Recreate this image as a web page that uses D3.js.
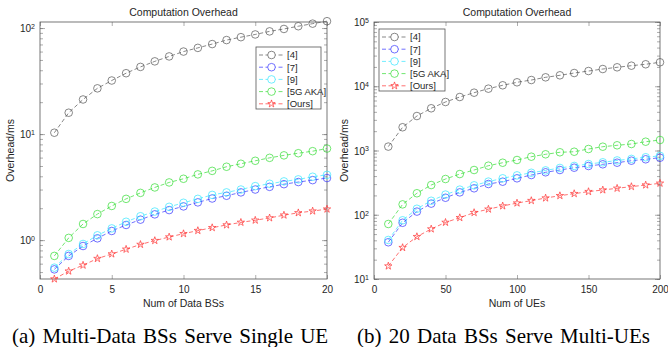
<!DOCTYPE html>
<html>
<head>
<meta charset="utf-8">
<script src="https://cdn.jsdelivr.net/npm/d3@7"></script>
<style>
  body { margin: 0; background: #fff; }
  svg { display: block; }
  .tick text { font-family: "Liberation Sans", Arial, sans-serif; font-size: 10px; fill: #262626; }
  .lbl { font-family: "Liberation Sans", Arial, sans-serif; fill: #262626; }
  .cap { font-family: "Liberation Serif", "Times New Roman", serif; font-size: 21px; word-spacing: 2px; fill: #000; }
</style>
</head>
<body>
<div id="chart"></div>
<script>
// ---- data ----
var names = ['[4]', '[7]', '[9]', '[5G AKA]', '[Ours]'];
var colors = ['#555555', '#3333ff', '#33e5ff', '#33dd33', '#ff3333'];

// (a) multi-data BSs serve a single UE
var bsCount = [1,2,3,4,5,6,7,8,9,10,11,12,13,14,15,16,17,18,19,20];
var a4    = [10.3,15.9,21.2,27,32,37.5,43,48.5,54,60,65,70.6,77,82,87,93,98,104,110,116];
var a7    = [0.53,0.71,0.88,1.04,1.22,1.39,1.56,1.75,1.92,2.08,2.27,2.47,2.62,2.82,3.0,3.18,3.37,3.53,3.68,3.85];
var a9    = [0.55,0.74,0.92,1.11,1.29,1.49,1.68,1.86,2.06,2.25,2.45,2.67,2.82,3.0,3.23,3.4,3.58,3.74,3.96,4.13];
var a5g   = [0.71,1.05,1.42,1.76,2.1,2.45,2.79,3.14,3.5,3.79,4.17,4.5,4.92,5.25,5.6,5.97,6.3,6.6,6.9,7.3];
var aOurs = [0.43,0.51,0.58,0.67,0.74,0.82,0.91,0.99,1.07,1.15,1.23,1.31,1.39,1.47,1.54,1.62,1.72,1.81,1.88,1.96];

// (b) 20 data BSs serve multiple UEs
var ueCount = [10,20,30,40,50,60,70,80,90,100,110,120,130,140,150,160,170,180,190,200];
var b4    = [1150,2300,3440,4540,5690,6800,7940,9170,10350,11520,12500,13770,14800,16070,17260,18540,19720,20900,21980,23600];
var b7    = [37.3,75,112,149,184,223,258,301,327,369,415,458,497,540,574,610,646,694,730,772];
var b9    = [40.5,82,124,165,206,246,287,328,369,410,450,490,535,575,615,655,700,740,785,826];
var b5g   = [71.8,145,216,290,360,430,497,580,645,711,801,873,938,957,1055,1146,1205,1262,1371,1456];
var bOurs = [15.9,30.8,45.6,60,76,90,108,122,137,152,166,182,198,213,229,243,258,274,290,309];

var xTicksA = [0,5,10,15,20];
var xTicksB = [0,50,100,150,200];
var yMajorA = [1,10,100];
var yMajorB = [10,100,1000,10000,100000];

var W = 668, H = 347;
var svg = d3.select('#chart').append('svg').attr('width', W).attr('height', H);

function minorTicks(lo, hi) {
    var out = [];
    for (var e = Math.floor(Math.log10(lo)); e <= Math.ceil(Math.log10(hi)); e++) {
        for (var k = 1; k <= 9; k++) {
            var v = k * Math.pow(10, e);
            if (v >= lo && v <= hi) out.push(v);
        }
    }
    return out;
}

function marker(sel, i, cx, cy, fill) {
    if (i === 4) {
        sel.append('path').attr('d', d3.symbol(d3.symbolStar, 17)())
            .attr('transform', 'translate(' + cx + ',' + cy + ')')
            .attr('fill', 'none').attr('stroke', colors[i]).attr('stroke-width', 0.7);
    } else {
        sel.append('circle').attr('cx', cx).attr('cy', cy).attr('r', 3.8)
            .attr('fill', fill).attr('stroke', colors[i]).attr('stroke-width', 0.7);
    }
}

function drawPanel(p) {
    var innerW = p.x1 - p.x0, innerH = p.y1 - p.y0;
    var g = svg.append('g').attr('transform', 'translate(' + p.x0 + ',' + p.y0 + ')');
    var x = d3.scaleLinear().domain(p.xDom).range([0, innerW]);
    var y = d3.scaleLog().domain(p.yDom).range([innerH, 0]);

    var minors = minorTicks(p.yDom[0], p.yDom[1]);

    // minor ticks both sides
    g.append('g').call(d3.axisLeft(y).tickValues(minors).tickSize(-3).tickFormat(''));
    g.append('g').attr('transform', 'translate(' + innerW + ',0)')
        .call(d3.axisRight(y).tickValues(minors).tickSize(-3).tickFormat(''));
    // major y ticks
    var yl = g.append('g').call(d3.axisLeft(y).tickValues(p.yMajor).tickSize(-5).tickFormat(''));
    g.append('g').attr('transform', 'translate(' + innerW + ',0)')
        .call(d3.axisRight(y).tickValues(p.yMajor).tickSize(-5).tickFormat(''));
    yl.selectAll('.tick').append('text')
        .attr('x', -5).attr('dy', '0.35em').attr('text-anchor', 'end')
        .each(function (d) {
            var t = d3.select(this);
            t.append('tspan').text('10');
            t.append('tspan').attr('dy', '-0.45em').attr('font-size', '7px').text(Math.round(Math.log10(d)));
        });
    // x ticks bottom and top
    g.append('g').attr('transform', 'translate(0,' + innerH + ')')
        .call(d3.axisBottom(x).tickValues(p.xTicks).tickSize(-4).tickPadding(7));
    g.append('g').call(d3.axisTop(x).tickValues(p.xTicks).tickSize(-4).tickFormat(''));
    g.selectAll('.domain').remove();
    g.selectAll('.tick line').attr('stroke', '#777').attr('stroke-width', 0.6);

    g.append('rect').attr('width', innerW).attr('height', innerH)
        .attr('fill', 'none').attr('stroke', '#555').attr('stroke-width', 0.8);

    // series
    p.series.forEach(function (s, i) {
        var pts = p.xs.map(function (xv, j) { return [xv, s[j]]; });
        g.append('path').datum(pts)
            .attr('fill', 'none').attr('stroke', colors[i]).attr('stroke-width', 0.7)
            .attr('stroke-dasharray', '4,2.5')
            .attr('d', d3.line().x(function (d) { return x(d[0]); }).y(function (d) { return y(d[1]); }));
        var mk = g.append('g');
        pts.forEach(function (d) { marker(mk, i, x(d[0]), y(d[1]), 'none'); });
    });

    // title + axis labels
    svg.append('text').attr('class', 'lbl').attr('x', p.x0 + innerW / 2).attr('y', p.y0 - 6)
        .attr('text-anchor', 'middle').attr('font-size', '10.5px').text('Computation Overhead');
    svg.append('text').attr('class', 'lbl').attr('x', p.x0 + innerW / 2).attr('y', p.y1 + 28)
        .attr('text-anchor', 'middle').attr('font-size', '10.5px').text(p.xLabel);
    svg.append('text').attr('class', 'lbl')
        .attr('transform', 'translate(' + (p.x0 - 26) + ',' + (p.y0 + innerH / 2) + ') rotate(-90)')
        .attr('text-anchor', 'middle').attr('font-size', '10.5px').text('Overhead/ms');

    // legend
    var lg = svg.append('g').attr('transform', 'translate(' + p.leg[0] + ',' + p.leg[1] + ')');
    lg.append('rect').attr('width', p.leg[2]).attr('height', 62)
        .attr('fill', '#fff').attr('stroke', '#555').attr('stroke-width', 0.8);
    names.forEach(function (n, i) {
        var yy = 8 + i * 12.2;
        lg.append('line').attr('x1', 3).attr('x2', 28).attr('y1', yy).attr('y2', yy)
            .attr('stroke', colors[i]).attr('stroke-width', 0.7).attr('stroke-dasharray', '4,2.5');
        marker(lg, i, 15.5, yy, '#fff');
        lg.append('text').attr('class', 'lbl').attr('x', 31).attr('y', yy).attr('dy', '0.35em')
            .attr('font-size', '9.5px').text(n);
    });

    svg.append('text').attr('class', 'cap').attr('x', p.capX).attr('y', 343)
        .text(p.caption);
}

drawPanel({
    x0: 40, x1: 327, y0: 22, y1: 279,
    xDom: [0, 20], yDom: [0.43, 114],
    xs: bsCount, series: [a4, a7, a9, a5g, aOurs],
    xTicks: xTicksA, yMajor: yMajorA,
    xLabel: 'Num of Data BSs',
    leg: [256, 47, 65], capX: 12,
    caption: '(a) Multi-Data BSs Serve Single UE'
});
drawPanel({
    x0: 374, x1: 660, y0: 22, y1: 279,
    xDom: [0, 200], yDom: [10, 100000],
    xs: ueCount, series: [b4, b7, b9, b5g, bOurs],
    xTicks: xTicksB, yMajor: yMajorB,
    xLabel: 'Num of UEs',
    leg: [379, 29, 66], capX: 357,
    caption: '(b) 20 Data BSs Serve Multi-UEs'
});
</script>
</body>
</html>
